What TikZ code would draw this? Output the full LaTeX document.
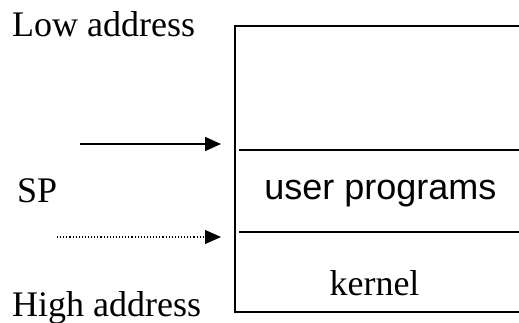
\documentclass[tikz,border=0pt]{standalone}
\usepackage{fontspec}
\setmainfont{Liberation Serif}
\newfontfamily\armfont{Liberation Sans}
\usetikzlibrary{arrows.meta}
\begin{document}
\begin{tikzpicture}[x=1pt,y=-1pt,
  lbl/.style={anchor=base west,inner sep=0pt,font=\fontsize{36}{40}\selectfont},
  boxline/.style={line width=2.2pt},
  ptr/.style={line width=1.6pt,-{Triangle[length=16pt,width=14pt]}},
  dptr/.style={line width=1.1pt,dotted,-{Triangle[length=16pt,width=14pt]}}]
\useasboundingbox (0,0) rectangle (519,323);
% memory column
\coordinate (tr) at (521,26);
\coordinate (tl) at (235,26);
\coordinate (bl) at (235,312);
\coordinate (br) at (521,312);
\draw[boxline] (tr) -- (tl) -- (bl) -- (br);
\coordinate (d1l) at (239,150);
\coordinate (d1r) at (521,150);
\coordinate (d2l) at (239,232);
\coordinate (d2r) at (521,232);
\draw[boxline] (d1l) -- (d1r);
\draw[boxline] (d2l) -- (d2r);
% texts
\node[lbl] (low) at (12,37) {Low address};
\node[lbl] (sp) at (17,202) {SP};
\node[lbl] (high) at (12,316) {High address};
\node[inner sep=0pt,anchor=base,font=\armfont\fontsize{36}{40}\selectfont] (user) at (380.5,200) {user programs};
\node[inner sep=0pt,anchor=base,font=\fontsize{36}{40}\selectfont] (kern) at (374.5,295) {kernel};
% pointers
\coordinate (a1s) at (80,144);
\coordinate (a1e) at (221,144);
\coordinate (a2s) at (57,237);
\coordinate (a2e) at (221,237);
\draw[ptr] (a1s) -- (a1e);
\draw[dptr] (a2s) -- (a2e);
\end{tikzpicture}
\end{document}
